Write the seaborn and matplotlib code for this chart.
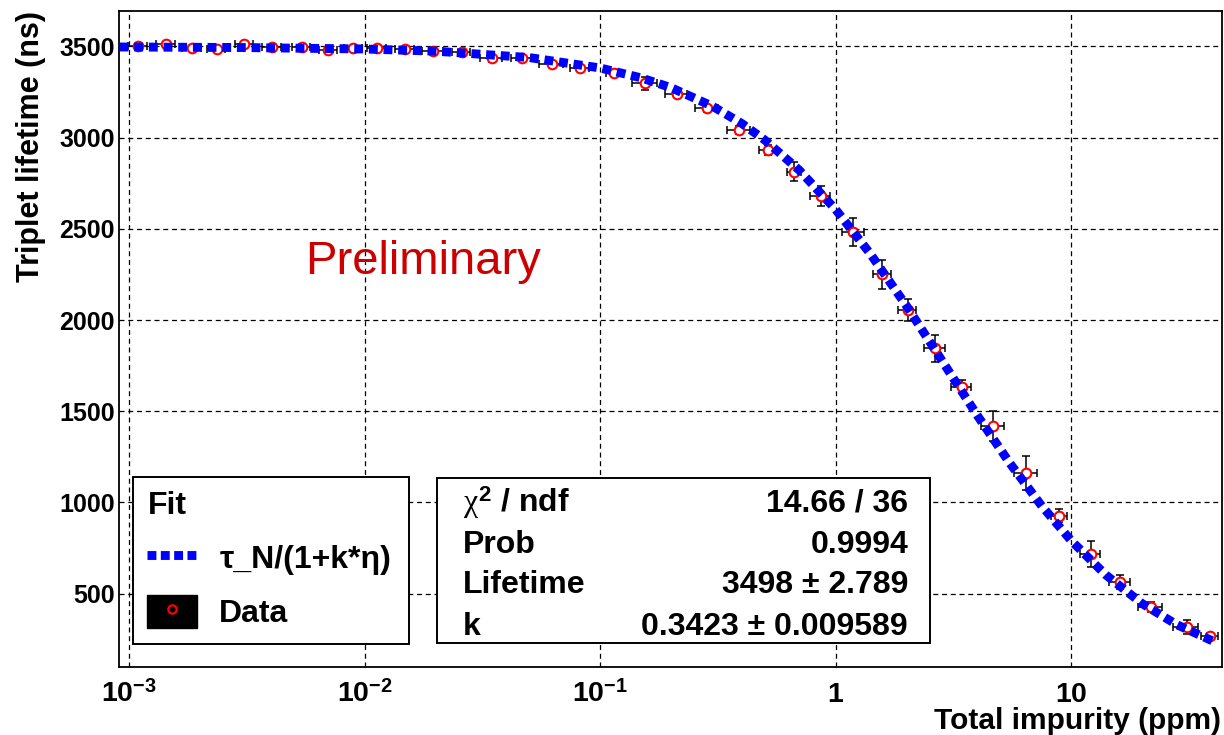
import numpy as np
import pandas as pd
import matplotlib
matplotlib.use("Agg")
import matplotlib.pyplot as plt
import seaborn as sns
from matplotlib.lines import Line2D
from matplotlib.patches import Patch, Rectangle
from matplotlib.legend_handler import HandlerTuple
from matplotlib.ticker import LogLocator, MultipleLocator, NullFormatter

# ---------------- data ----------------
impurity = [1.09e-3, 1.43e-3, 1.85e-3, 2.35e-3, 3.08e-3, 4.04e-3, 5.40e-3, 7.00e-3,
            8.94e-3, 1.125e-2, 1.48e-2, 1.955e-2, 2.58e-2, 3.46e-2, 4.64e-2, 6.22e-2,
            8.20e-2, 0.115, 0.155, 0.211, 0.285, 0.388, 0.518, 0.665, 0.864, 1.19,
            1.58, 2.02, 2.64, 3.43, 4.67, 6.43, 8.90, 12.1, 16.1, 21.8, 30.9, 38.8]
lifetime = [3503, 3512, 3490, 3486, 3515, 3496, 3499, 3481, 3493, 3490, 3486, 3475,
            3471, 3435, 3435, 3404, 3380, 3353, 3298, 3238, 3161, 3042, 2933, 2814,
            2680, 2485, 2251, 2055, 1845, 1635, 1421, 1160, 928, 718, 566, 429, 319, 270]
lifetime_err = [12, 12, 12, 12, 12, 12, 12, 12, 12, 12, 12, 12, 12, 18, 15, 12, 15,
                15, 37, 15, 18, 20, 28, 50, 55, 77, 80, 58, 73, 35, 82, 93, 37, 70,
                38, 27, 38, 16]
impurity_rel_err = [0.09, 0.09, 0.09, 0.09, 0.09, 0.09, 0.09, 0.09, 0.09, 0.09, 0.09,
                    0.10, 0.09, 0.11, 0.10, 0.12, 0.09, 0.08, 0.12, 0.11, 0.11, 0.11,
                    0.09, 0.07, 0.10, 0.11, 0.09, 0.085, 0.10, 0.10, 0.11, 0.11, 0.08,
                    0.10, 0.10, 0.12, 0.12, 0.08]

# fit curve tau_N/(1+k*eta) as drawn, sampled along the picture
fit_x = [9.1e-4, 3e-3, 1e-2, 2e-2, 5e-2, 0.1, 0.15, 0.2, 0.3, 0.4, 0.5, 0.7, 1.0,
         1.4, 2.0, 2.8, 4.0, 5.5, 7.5, 10, 14, 20, 28, 40]
fit_y = [3497, 3494, 3486, 3474, 3439, 3382, 3327, 3274, 3172, 3077, 2987, 2822,
         2606, 2365, 2077, 1786, 1476, 1214, 981, 791, 604, 446, 331, 240]

x_tick_values = [1e-3, 1e-2, 1e-1, 1, 10]
x_tick_labels = [r"$10^{-3}$", r"$10^{-2}$", r"$10^{-1}$", r"$1$", r"$10$"]
y_tick_values = [500, 1000, 1500, 2000, 2500, 3000, 3500]

stats_names = [r"$\chi^{2}$ / ndf", "Prob", "Lifetime", "k"]
stats_values = ["14.66 / 36", "0.9994", "3498 \u00b1 2.789", "0.3423 \u00b1 0.009589"]

# ---------------- style ----------------
sns.set_theme(style="white")
plt.rcParams["font.family"] = ["Liberation Sans", "DejaVu Sans"]
plt.rcParams["mathtext.fontset"] = "custom"
plt.rcParams["mathtext.rm"] = "Liberation Sans:bold"
plt.rcParams["mathtext.bf"] = "Liberation Sans:bold"
plt.rcParams["mathtext.sf"] = "Liberation Sans:bold"
plt.rcParams["mathtext.it"] = "Liberation Serif"
for key in ["text.color", "axes.labelcolor", "xtick.color", "ytick.color",
            "axes.edgecolor"]:
    plt.rcParams[key] = "black"

W, H = 1224, 735
fig = plt.figure(figsize=(W / 100, H / 100), dpi=100)
fig.patch.set_facecolor("white")
ax = fig.add_axes([119 / W, 1 - 667 / H, (1221.5 - 119) / W, (667 - 10.5) / H])
ax.set_facecolor("white")

df = pd.DataFrame({"impurity": impurity, "lifetime": lifetime,
                   "err": lifetime_err, "rel": impurity_rel_err})
xerr = df["impurity"] * df["rel"]

ax.set_xscale("log")
ax.errorbar(df["impurity"], df["lifetime"], xerr=xerr, yerr=df["err"], fmt="none",
            ecolor="black", elinewidth=1.1, capsize=2.6, capthick=1.1, zorder=3)
sns.scatterplot(data=df, x="impurity", y="lifetime", ax=ax, marker="o", s=48,
                facecolor="white", edgecolor="#ff0000", linewidth=1.5, zorder=4,
                legend=False)
fit_df = pd.DataFrame({"x": fit_x, "y": fit_y})
sns.lineplot(data=fit_df, x="x", y="y", ax=ax, color="#0000ff", linewidth=6.4,
             sort=False, estimator=None, zorder=5, legend=False)
fit_line = ax.get_lines()[-1]
fit_line.set_dashes([1.0, 0.65])
fit_line.set_dash_capstyle("butt")

ax.set_xlim(9.05e-4, 43.5)
ax.set_ylim(98, 3697)

ax.set_xticks(x_tick_values)
ax.set_xticklabels(x_tick_labels)
ax.xaxis.set_minor_locator(LogLocator(base=10, subs=np.arange(2, 10)))
ax.xaxis.set_minor_formatter(NullFormatter())
ax.set_yticks(y_tick_values)
ax.yaxis.set_minor_locator(MultipleLocator(100))

ax.tick_params(axis="both", which="both", direction="in", color="black",
               labelcolor="black", top=False, right=False, width=1.0)
ax.tick_params(axis="x", which="major", length=16, pad=25, labelsize=20.5)
ax.tick_params(axis="x", which="minor", length=8.5)
ax.tick_params(axis="y", which="major", length=11, pad=3, labelsize=18)
ax.tick_params(axis="y", which="minor", length=5.5)
for lab in ax.get_xticklabels():
    lab.set_verticalalignment("baseline")
for lab in ax.get_yticklabels():
    lab.set_fontweight("bold")

ax.grid(True, which="major", color="black", linestyle=(0, (4, 3)), linewidth=0.9)
ax.set_axisbelow(True)
for sp in ax.spines.values():
    sp.set_color("black")
    sp.set_linewidth(1.3)
    sp.set_visible(True)

ax.set_xlabel("Total impurity (ppm)", fontsize=21.5, fontweight="bold", loc="right")
ax.xaxis.set_label_coords(1.0, -0.0605)
ax.set_ylabel("Triplet lifetime (ns)", fontsize=22, fontweight="bold", loc="top")
ax.yaxis.set_label_coords(-0.066, 1.0)

# ---------------- legend ----------------
fit_handle = Line2D([], [], color="#0000ff", linewidth=6.4, dashes=[1.0, 0.5],
                    dash_capstyle="butt")
data_handle = (Patch(facecolor="black", edgecolor="black"),
               Line2D([], [], marker="o", linestyle="none", markersize=6,
                      markerfacecolor="black", markeredgecolor="#ff0000",
                      markeredgewidth=1.6))
leg = ax.legend([fit_handle, data_handle], ["\u03c4_N/(1+k*\u03b7)", "Data"],
                handler_map={tuple: HandlerTuple(ndivide=1, pad=0)},
                title="Fit", alignment="left",
                title_fontproperties={"weight": "bold", "size": 23},
                prop={"weight": "bold", "size": 23},
                loc="upper left", mode="expand",
                bbox_to_anchor=(133 / W, 1 - 642 / H, 276 / W, 165 / H),
                bbox_transform=fig.transFigure, borderaxespad=0,
                frameon=True, fancybox=False, framealpha=1,
                handlelength=1.55, handleheight=1.2, handletextpad=0.7,
                labelspacing=0.62, borderpad=0.45)
leg.get_frame().set_edgecolor("black")
leg.get_frame().set_linewidth(1.4)
leg.set_zorder(10)

# ---------------- statistics box ----------------
fig.add_artist(Rectangle((437 / W, 1 - 643 / H), 493 / W, 165 / H,
                         transform=fig.transFigure, facecolor="white",
                         edgecolor="black", linewidth=1.4, zorder=10))
row_baselines = [512, 553, 593, 635]
for name, val, yb in zip(stats_names, stats_values, row_baselines):
    fig.text(463 / W, 1 - yb / H, name, ha="left", va="baseline", fontsize=23,
             fontweight="bold", zorder=11)
    fig.text(908 / W, 1 - yb / H, val, ha="right", va="baseline", fontsize=23,
             fontweight="bold", zorder=11)

# ---------------- watermark ----------------
fig.text(305 / W, 1 - 274 / H, "Preliminary", ha="left", va="baseline",
         fontsize=34, color="#cc0000", zorder=11)

fig.savefig("out.png", dpi=100)
